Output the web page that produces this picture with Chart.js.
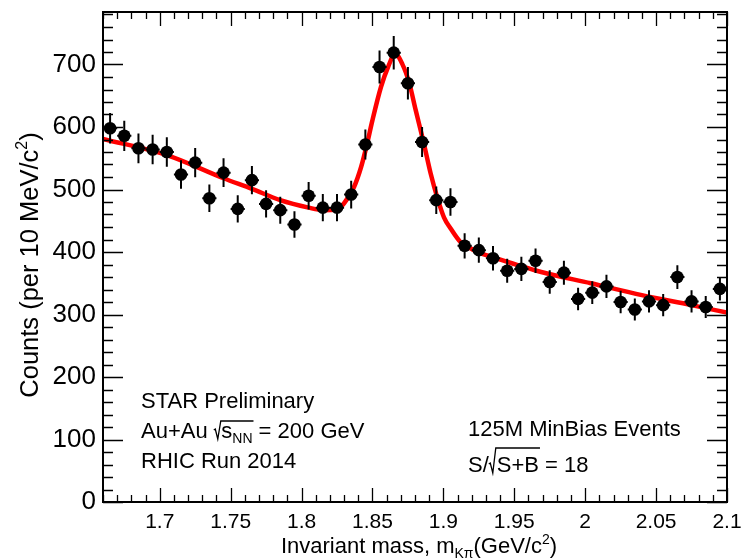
<!DOCTYPE html>
<html><head><meta charset="utf-8">
<script src="https://cdn.jsdelivr.net/npm/chart.js@4.4.1/dist/chart.umd.min.js"></script>
<style>html,body{margin:0;padding:0;background:#fff;}#wrap{width:743px;height:560px;}</style>
</head><body><div id="wrap"><canvas id="c" width="743" height="560"></canvas></div>
<script>
// ---- data ----
const massBins = [1.665,1.675,1.685,1.695,1.705,1.715,1.725,1.735,1.745,1.755,1.765,1.775,1.785,1.795,1.805,1.815,1.825,1.835,1.845,1.855,1.865,1.875,1.885,1.895,1.905,1.915,1.925,1.935,1.945,1.955,1.965,1.975,1.985,1.995,2.005,2.015,2.025,2.035,2.045,2.055,2.065,2.075,2.085,2.095];
const counts = [598,586,566,564,560,524,543,486,527,469,515,477,467,444,490,471,471,492,572,696,719,670,576,483,480,410,403,390,370,373,386,352,367,325,335,345,320,308,321,315,360,321,312,341];
const countErr = [24.5,24.2,23.8,23.7,23.7,22.9,23.3,22,23,21.7,22.7,21.8,21.6,21.1,22.1,21.7,21.7,22.2,23.9,26.4,26.8,25.9,24,22,21.9,20.2,20.1,19.7,19.2,19.3,19.6,18.8,19.2,18,18.3,18.6,17.9,17.5,17.9,17.7,19,17.9,17.7,18.5];
const fitMass = [1.660,1.705,1.745,1.765,1.785,1.805,1.815,1.825,1.830,1.837,1.842,1.846,1.850,1.856,1.861,1.866,1.871,1.876,1.8805,1.886,1.891,1.896,1.9005,1.905,1.912,1.919,1.925,1.933,1.969,2.004,2.040,2.075,2.100];
const fitCounts = [581,555,518,501,483,471,467,468,478,504,536,571,611,664,696,717,701,670,627,576,526,485,455,438,416,406,399,393,368,350,331,315,303];
const xTickValues = [1.7,1.75,1.8,1.85,1.9,1.95,2,2.05,2.1];
const xTickLabels = ['1.7','1.75','1.8','1.85','1.9','1.95','2','2.05','2.1'];
const yTickValues = [0,100,200,300,400,500,600,700];
const yTickLabels = ['0','100','200','300','400','500','600','700'];

const FONT = '"Liberation Sans", Arial, Helvetica, sans-serif';

function txt(ctx, s, x, y, size) {
  ctx.font = size + 'px ' + FONT;
  ctx.fillText(s, x, y);
  return x + ctx.measureText(s).width;
}
function wid(ctx, s, size) { ctx.font = size + 'px ' + FONT; return ctx.measureText(s).width; }
function radical(ctx, x0, b, top, xEnd) {
  ctx.beginPath();
  ctx.moveTo(x0, b - 8);
  ctx.lineTo(x0 + 1.5, b - 9);
  ctx.lineTo(x0 + 4, b + 1);
  ctx.lineTo(x0 + 7, top);
  ctx.lineTo(xEnd, top);
  ctx.stroke();
}

const decorPlugin = {
  id: 'decor',
  beforeDatasetDraw(chart, args) {
    if (args.index !== 0) return;
    const { ctx, scales: { x, y } } = chart;
    ctx.save();
    ctx.strokeStyle = '#000';
    ctx.lineWidth = 2;
    ctx.beginPath();
    massBins.forEach((m, i) => {
      const px = x.getPixelForValue(m);
      const py = y.getPixelForValue(counts[i]);
      ctx.moveTo(px, y.getPixelForValue(counts[i] - countErr[i]));
      ctx.lineTo(px, y.getPixelForValue(counts[i] + countErr[i]));
      ctx.moveTo(x.getPixelForValue(m - 0.005), py);
      ctx.lineTo(x.getPixelForValue(m + 0.005), py);
    });
    ctx.stroke();
    ctx.restore();
  },
  afterDraw(chart) {
    const { ctx, chartArea: a, scales: { x, y } } = chart;
    ctx.save();
    ctx.strokeStyle = '#000';
    ctx.fillStyle = '#000';
    // inward ticks
    ctx.lineWidth = 1.3;
    ctx.beginPath();
    for (let i = 0; i <= 44; i++) {
      const v = 1.66 + i * 0.01;
      const major = Math.abs(v * 20 - Math.round(v * 20)) < 1e-6;
      const len = major ? 14 : 7;
      const px = Math.round(x.getPixelForValue(v)) + 0.5;
      ctx.moveTo(px, a.bottom); ctx.lineTo(px, a.bottom - len);
      ctx.moveTo(px, a.top); ctx.lineTo(px, a.top + len);
    }
    for (let v = 0; v <= 780; v += 20) {
      const major = v % 100 === 0;
      const len = major ? 20 : 10;
      const py = Math.round(y.getPixelForValue(v)) + 0.5;
      ctx.moveTo(a.left, py); ctx.lineTo(a.left + len, py);
      ctx.moveTo(a.right, py); ctx.lineTo(a.right - len, py);
    }
    ctx.stroke();
    // frame
    ctx.lineWidth = 2;
    ctx.strokeRect(a.left, a.top, a.right - a.left, a.bottom - a.top);

    ctx.textBaseline = 'alphabetic';
    ctx.textAlign = 'left';
    // x title
    {
      const F = 22, S = 14;
      const total = wid(ctx, 'Invariant mass, m', F) + wid(ctx, 'K\u03c0', S) + wid(ctx, '(GeV/c', F) + wid(ctx, '2', S) + wid(ctx, ')', F);
      let xx = (a.left + a.right) / 2 + 4 - total / 2;
      const b = 553;
      xx = txt(ctx, 'Invariant mass, m', xx, b, F);
      xx = txt(ctx, 'K\u03c0', xx, b + 5, S);
      xx = txt(ctx, '(GeV/c', xx, b, F);
      xx = txt(ctx, '2', xx, b - 9, S);
      txt(ctx, ')', xx, b, F);
    }
    // y title
    {
      const F = 25.5, S = 16;
      const total = wid(ctx, 'Counts (per 10 MeV/c', F) + wid(ctx, '2', S) + wid(ctx, ')', F);
      ctx.save();
      ctx.translate(38, (a.top + a.bottom) / 2 + 8 + total / 2);
      ctx.rotate(-Math.PI / 2);
      let xx = 0;
      xx = txt(ctx, 'Counts (per 10 MeV/c', xx, 0, F);
      xx = txt(ctx, '2', xx, -11, S);
      txt(ctx, ')', xx, 0, F);
      ctx.restore();
    }
    // annotations
    ctx.lineWidth = 1.3;
    {
      const F = 22;
      txt(ctx, 'STAR Preliminary', 141, 408, F);
      let b = 438;
      let xx = txt(ctx, 'Au+Au ', 141, b, F);
      const r0 = xx;
      let xs = r0 + 7.5;
      let x2 = txt(ctx, 's', xs, b, F);
      let x3 = txt(ctx, 'NN', x2, b + 5, 14);
      radical(ctx, r0, b, b - 17, x3 + 1);
      txt(ctx, ' = 200 GeV', x3, b, F);
      txt(ctx, 'RHIC Run 2014', 141, 468, F);

      txt(ctx, '125M MinBias Events', 468, 436, F);
      b = 472;
      xx = txt(ctx, 'S/', 468, b, F);
      const r1 = xx;
      x2 = txt(ctx, 'S+B', r1 + 8, b, F);
      radical(ctx, r1, b, b - 24, x2 + 1);
      txt(ctx, ' = 18', x2, b, F);
    }
    ctx.restore();
  }
};

new Chart(document.getElementById('c'), {
  data: {
    datasets: [
      {
        type: 'scatter', label: 'data',
        data: massBins.map((m, i) => ({ x: m, y: counts[i] })),
        pointRadius: 6.3, pointHoverRadius: 6.3,
        backgroundColor: '#000', borderColor: '#000', borderWidth: 0,
        order: 0
      },
      {
        type: 'line', label: 'fit',
        data: fitMass.map((m, i) => ({ x: m, y: fitCounts[i] })),
        borderColor: '#ff0000', borderWidth: 4.5, pointRadius: 0,
        cubicInterpolationMode: 'monotone', fill: false,
        order: 1
      }
    ]
  },
  options: {
    responsive: false, animation: false, devicePixelRatio: 1,
    events: [],
    layout: { padding: { left: 0, right: 16, top: 12, bottom: 0 } },
    plugins: { legend: { display: false }, tooltip: { enabled: false } },
    scales: {
      x: {
        type: 'linear', min: 1.66, max: 2.1,
        grid: { display: false, drawTicks: false }, border: { display: false },
        afterBuildTicks: s => { s.ticks = xTickValues.map(v => ({ value: v })); },
        afterFit: s => { s.height = 58; s.paddingLeft = 0; s.paddingRight = 0; },
        ticks: {
          autoSkip: false, maxRotation: 0, padding: 8, color: '#000',
          font: { family: FONT, size: 21 },
          callback: (v, i) => xTickLabels[i]
        }
      },
      y: {
        type: 'linear', min: 0, max: 784,
        grid: { display: false, drawTicks: false }, border: { display: false },
        afterBuildTicks: s => { s.ticks = yTickValues.map(v => ({ value: v })); },
        afterFit: s => { s.width = 103; s.paddingTop = 0; s.paddingBottom = 0; },
        ticks: {
          autoSkip: false, padding: 7, color: '#000',
          font: { family: FONT, size: 26 },
          callback: (v, i) => yTickLabels[i]
        }
      }
    }
  },
  plugins: [decorPlugin]
});
</script>
</body></html>
